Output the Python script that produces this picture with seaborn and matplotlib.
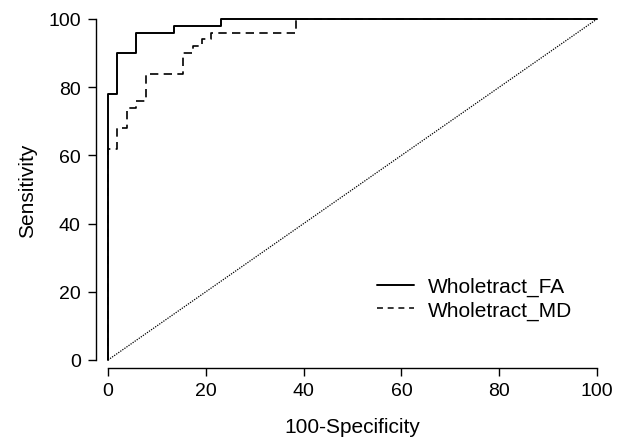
import numpy as np
import pandas as pd
import seaborn as sns
import matplotlib.pyplot as plt
from matplotlib.lines import Line2D

# ROC corner points (100-specificity, sensitivity)
fa_fpr = [0, 0, 1.92, 1.92, 5.77, 5.77, 13.46, 13.46, 23.08, 23.08, 100]
fa_tpr = [0, 78, 78, 90, 90, 96, 96, 98, 98, 100, 100]

md_fpr = [0, 0, 1.92, 1.92, 3.85, 3.85, 5.77, 5.77, 7.69, 7.69, 15.38, 15.38,
          17.31, 17.31, 19.23, 19.23, 21.15, 21.15, 38.46, 38.46, 100]
md_tpr = [0, 62, 62, 68, 68, 74, 74, 76, 76, 84, 84, 90,
          90, 92, 92, 94, 94, 96, 96, 100, 100]

ref_x = [0, 100]
ref_y = [0, 100]

labels = ['Wholetract_FA', 'Wholetract_MD']
ticks = [0, 20, 40, 60, 80, 100]

sns.set_style('ticks', {'text.color': 'black', 'axes.labelcolor': 'black',
                        'xtick.color': 'black', 'ytick.color': 'black',
                        'axes.edgecolor': 'black'})
plt.rcParams['font.family'] = ['Liberation Sans', 'DejaVu Sans']

fig = plt.figure(figsize=(6.25, 4.39), dpi=100)
ax = fig.add_axes([108/625, 78/439, 489/625, 341/439])

sns.lineplot(x=ref_x, y=ref_y, ax=ax, color='black', lw=0.9,
             linestyle=(0, (1, 1)), sort=False, estimator=None, clip_on=False)
sns.lineplot(x=md_fpr, y=md_tpr, ax=ax, color='black', lw=1.2,
             linestyle=(0, (5, 3.2)), sort=False, estimator=None, clip_on=False)
sns.lineplot(x=fa_fpr, y=fa_tpr, ax=ax, color='black', lw=1.4,
             sort=False, estimator=None, clip_on=False)

ax.set_xlim(0, 100)
ax.set_ylim(0, 100)
ax.set_xticks(ticks)
ax.set_yticks(ticks)
ax.tick_params(labelsize=14, length=6, width=1, color='black', labelcolor='black')
ax.tick_params(axis='x', pad=4)
ax.tick_params(axis='y', pad=5)
for s in ['top', 'right']:
    ax.spines[s].set_visible(False)
ax.spines['left'].set_position(('outward', 8.6))
ax.spines['bottom'].set_position(('outward', 6.1))
for s in ['left', 'bottom']:
    ax.spines[s].set_linewidth(1)
    ax.spines[s].set_color('black')

ax.set_xlabel('100-Specificity', fontsize=15, color='black')
ax.set_ylabel('Sensitivity', fontsize=15, color='black')
ax.xaxis.set_label_coords(0.5, -0.166)
ax.yaxis.set_label_coords(-0.145, 0.5)

handles = [Line2D([], [], color='black', lw=1.4),
           Line2D([], [], color='black', lw=1.1, linestyle=(0, (3.9, 3.1)))]
leg = ax.legend(handles, labels, frameon=False, fontsize=15, loc='upper left',
                bbox_to_anchor=(377/625, 1 - 278/439), bbox_transform=fig.transFigure,
                borderpad=0, borderaxespad=0, handlelength=1.76, handletextpad=0.7,
                labelspacing=0.2)
for t in leg.get_texts():
    t.set_color('black')

fig.savefig('out.png', dpi=100)
